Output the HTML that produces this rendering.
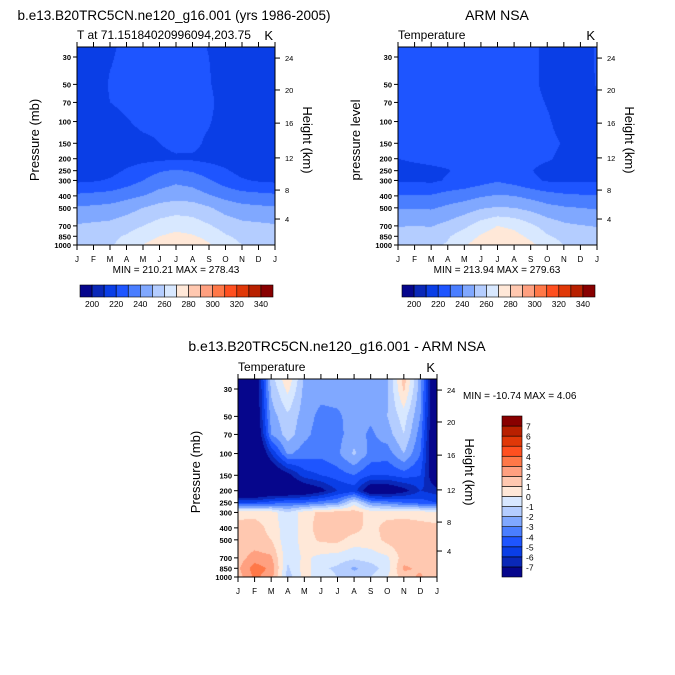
<!DOCTYPE html>
<html><head><meta charset="utf-8"><style>
html,body{margin:0;padding:0;background:#fff;width:675px;height:675px;overflow:hidden}
#root{position:relative;width:675px;height:675px}
canvas{position:absolute}
svg{position:absolute;left:0;top:0}
text{font-family:"Liberation Sans",sans-serif;fill:#000}
</style></head><body>
<div id="root">
<canvas id="c1"></canvas>
<canvas id="c2"></canvas>
<canvas id="c3"></canvas>
<svg id="ov" width="675" height="675"></svg>
</div>
<script>
const months=['J','F','M','A','M','J','J','A','S','O','N','D','J'];
const pLevels=[25,30,50,70,100,150,200,250,300,400,500,700,850,1000];
const pTicks=[30,50,70,100,150,200,250,300,400,500,700,850,1000];
const heightTicks=[4,8,12,16,20,24];
const heightTickP=[616,359,197,103,55.5,30.6];
const palette=['#06068c','#0a28b8','#0a3ee6','#1e55ff','#4a7eff','#80a8ff','#b4cdff','#d8e8ff','#ffe8d8','#ffc8b0','#ffa080','#ff7848','#ff5020','#e03808','#b82000','#880000'];
const levelsT=[200,210,220,230,240,250,260,270,280,290,300,310,320,330,340];
const cbLabelsT=[200,220,240,260,280,300,320,340];
const levelsD=[-7,-6,-5,-4,-3,-2,-1,0,1,2,3,4,5,6,7];
const cbLabelsD=[7,6,5,4,3,2,1,0,-1,-2,-3,-4,-5,-6,-7];
const gridModel=[
[214,214,218,223,223,223,223,223,219.5,214,214,214,214],
[214,214,219,223,223,223,223,223,220,214,214,214,214],
[214,214,221,223,223,223,223,223,221,214,214,214,214],
[214,214,220,223,223,223,223,223,223,214,214,214,214],
[214,214,215,219,223,223,223,223,221,214,214,214,214],
[214,214,214,215,217,220,222,222.5,218,214,214,214,214],
[214,214,215,216,217,218,219,218.5,217,216,215,214,214],
[215,216,217,221,225,229,231,229,225,221,217,216,215],
[218,219,221,225,230,235,238,236,231,225,221,219,218],
[232,233,234,237,240,244,246,245,241,237,234,233,232],
[241,242,243,246,250,254,256,255,251,246,243,242,241],
[251,252,253,256,260,264,266,265,261,256,253,252,251],
[255,256,258,261,266,270,273,271,267,261,258,256,255],
[257,258,259,263,270,275,278,277,271,264,260,258,257]];
const gridObs=[
[222,223,223,223,223,223,224,223,222,218,216,216,221],
[222,223,223,223,223,223,223,223,222,218,216,216,221],
[222,223,223,223,223,223,223,223,222,218,216,216,220.5],
[222,223,223,223,223,223,223,223,222.5,219.5,216,216,219],
[222,223,223,223,223,223,223,223,223,221,217,216,218],
[221,222.5,223,223,223,223,223,223,223,222,219.5,217,217],
[220,221.5,222.5,223,223,223,223,223,222.5,221,218,217,218],
[216,217,218,219.5,222.5,224,226,224,220.5,217,217,217,216],
[219,219,218,221,223,226,229,226,222,219,218.5,219,219],
[230.5,231,231,234,236,239,241,240,237,234,232,231,230.5],
[239,239.5,239,242,245,249,251,250,247,243,241,240,239],
[249.5,250,249.5,253,258,265,270,268,262,256,252,250.5,249.5],
[254,255,255,259,265,271,275,273,268,261,257,255,254],
[257,258,258,261,269,275,279,277,272,266,260,258,257]];
const gridDiff=[
[-10,-9,-1.5,0.8,-2.2,-2.5,-2.5,-2.5,-2.5,-2.2,1.5,-2.5,-10],
[-10,-9,-1.8,0.3,-2.3,-2.6,-2.5,-2.5,-2.5,-2.2,1.2,-2.6,-10],
[-10,-9,-2.5,-1.2,-2.5,-3.3,-3.2,-2.5,-2.8,-2,-0.5,-3,-10],
[-10,-9.5,-3,-1.5,-2.7,-3.5,-3.3,-2.5,-3.2,-2.5,-1,-3.5,-10],
[-10,-10,-6,-2.8,-3.5,-3.7,-3.2,-1.8,-3.3,-3.5,-2,-4,-10],
[-10,-10,-9,-7.5,-5.5,-5,-4.5,-4,-5,-5,-4.5,-5,-9],
[-10,-10,-9,-9,-8.5,-7.5,-6,-5.5,-8.5,-8.5,-7.5,-6,-6.5],
[-5,-5,-4.5,-4,-4,-3.5,-3,-0.5,-3,-3.5,-4,-4.5,-5],
[0.8,0.8,0.6,-1,0.6,1.2,1.5,1.5,0.6,0.5,0.6,0.5,0.5],
[1.2,1.3,0.8,-0.8,0.5,1.5,1.7,1.5,0.5,1.5,1.6,1.4,1.2],
[1.3,1.3,1,-0.8,0.5,1.2,1.3,0.5,0.5,1.3,1.8,1.6,1.3],
[1.5,2.5,2.2,-0.8,0.2,-0.3,-0.5,-0.8,-0.5,-0.2,1.5,1.5,1],
[1.8,3.5,2.8,-1.2,0.5,-0.8,-1.2,-2.2,-1.5,-0.5,2.2,1.8,1],
[1.5,3.2,2.5,-1.5,0.3,-0.5,-1,-1.5,-1,0,1.5,2.2,1]];

const NS='http://www.w3.org/2000/svg';
const ov=document.getElementById('ov');
function mk(tag,attrs,parent){const e=document.createElementNS(NS,tag);for(const k in attrs)e.setAttribute(k,attrs[k]);(parent||ov).appendChild(e);return e;}
function txt(s,x,y,size,anchor,extra,name){const t=mk('text',Object.assign({x:x,y:y,'font-size':size,'text-anchor':anchor||'start'},extra||{}));t.textContent=s;


return t;}
const L30=Math.log10(30),SPAN=3-L30,PX=188;
function hexRgb(h){return[parseInt(h.slice(1,3),16),parseInt(h.slice(3,5),16),parseInt(h.slice(5,7),16)];}
const palRgb=palette.map(hexRgb);
function colorIdx(v,levels){let i=0;while(i<levels.length&&v>=levels[i])i++;return i;}

function panel(cid,x0,y0,w,h,grid,levels,o){
  const y30=y0+10;
  const yOf=p=>y30+(Math.log10(p)-L30)/SPAN*PX;
  const cv=document.getElementById(cid);cv.width=w;cv.height=h;cv.style.left=x0+'px';cv.style.top=y0+'px';
  const ctx=cv.getContext('2d');const img=ctx.createImageData(w,h);
  const logP=pLevels.map(p=>Math.log10(p));
  for(let py=0;py<h;py++){
    const lp=L30+((y0+py+0.5)-y30)/PX*SPAN;
    let r=0;while(r<logP.length-2&&lp>logP[r+1])r++;
    let fy=(lp-logP[r])/(logP[r+1]-logP[r]);fy=Math.max(0,Math.min(1,fy));
    for(let px=0;px<w;px++){
      const m=(px+0.5)/w*12;let c=Math.min(11,Math.floor(m));const fx=m-c;
      const v=(grid[r][c]*(1-fx)+grid[r][c+1]*fx)*(1-fy)+(grid[r+1][c]*(1-fx)+grid[r+1][c+1]*fx)*fy;
      const col=palRgb[colorIdx(v,levels)];const k=(py*w+px)*4;
      img.data[k]=col[0];img.data[k+1]=col[1];img.data[k+2]=col[2];img.data[k+3]=255;
    }
  }
  ctx.putImageData(img,0,0);
  const g=mk('g',{});
  
  
  const fr=mk('rect',{x:x0,y:y0,width:w,height:h,fill:'none',stroke:'#000','stroke-width':1},g);
  
  
  months.forEach((m,i)=>{const x=x0+i*w/12;
    mk('line',{x1:x,x2:x,y1:y0,y2:y0-5,stroke:'#000'},g);
    mk('line',{x1:x,x2:x,y1:y0+h,y2:y0+h+5,stroke:'#000'},g);
    txt(m,x,y0+h+17,8,'middle',{},'month-tick-label');});
  pTicks.forEach(p=>{const y=yOf(p);
    mk('line',{x1:x0,x2:x0-4,y1:y,y2:y,stroke:'#000'},g);
    txt(String(p),x0-6,y+3,7.5,'end',{'font-weight':'bold'},'pressure-tick-label');});
  heightTicks.forEach((z,i)=>{const y=yOf(heightTickP[i]);
    mk('line',{x1:x0+w,x2:x0+w+5,y1:y,y2:y,stroke:'#000'},g);
    txt(String(z),x0+w+10,y+3,7.5,'start',{},'height-tick-label');});
  const cy=y0+h/2-6;
  txt(o.ylab,x0-38,cy,13,'middle',{transform:'rotate(-90 '+(x0-38)+' '+cy+')'},'y-axis-title');
  txt('Height (km)',x0+w+28,cy,13,'middle',{transform:'rotate(90 '+(x0+w+28)+' '+cy+')'},'y2-axis-title');
  txt(o.sub,x0,y0-8,12,'start',{},'panel-subtitle');
  txt('K',x0+w-2,y0-7,13,'end',{},'units-label');
  txt(o.title,o.tx,o.ty,o.ts||14,'middle',{},'panel-title');
}

function hbar(x0,y0,w,h,labels,levels){
  const bw=w/palette.length;
  palette.forEach((c,i)=>{const r=mk('rect',{x:x0+i*bw,y:y0,width:bw,height:h,fill:c,stroke:'#000','stroke-width':0.6});
    
    });
  labels.forEach(v=>{const i=levels.indexOf(v)+1;txt(String(v),x0+i*bw,y0+h+10,8.5,'middle',{},'colorbar-label');});
}
function vbar(x0,y0,w,h,labels,levels){
  const n=palette.length,bh=h/n;
  palette.forEach((c,i)=>{const r=mk('rect',{x:x0,y:y0+(n-1-i)*bh,width:w,height:bh,fill:c,stroke:'#000','stroke-width':0.6});
    
    });
  labels.forEach(v=>{const i=levels.indexOf(v)+1;txt(String(v),x0+w+4,y0+(n-i)*bh+3.5,8.5,'start',{},'colorbar-label');});
}

panel('c1',77,47,198,198,gridModel,levelsT,{name:'model',ylab:'Pressure (mb)',sub:'T at 71.15184020996094,203.75',title:'b.e13.B20TRC5CN.ne120_g16.001 (yrs 1986-2005)',tx:174,ty:20,ts:13.5});
txt('MIN = 210.21 MAX = 278.43',176,273,10,'middle',{},'min-max-label');
hbar(80,285,193,12,cbLabelsT,levelsT);

panel('c2',398,47,199,198,gridObs,levelsT,{name:'obs',ylab:'pressure level',sub:'Temperature',title:'ARM NSA',tx:497,ty:20});
txt('MIN = 213.94 MAX = 279.63',497,273,10,'middle',{},'min-max-label');
hbar(402,285,193,12,cbLabelsT,levelsT);

panel('c3',238,379,199,198,gridDiff,levelsD,{name:'diff',ylab:'Pressure (mb)',sub:'Temperature',title:'b.e13.B20TRC5CN.ne120_g16.001 - ARM NSA',tx:337,ty:351});
txt('MIN = -10.74 MAX =   4.06',463,399,10,'start',{'xml:space':'preserve'},'min-max-label');
vbar(502,416,20,161,cbLabelsD,levelsD);
</script>
</body></html>
